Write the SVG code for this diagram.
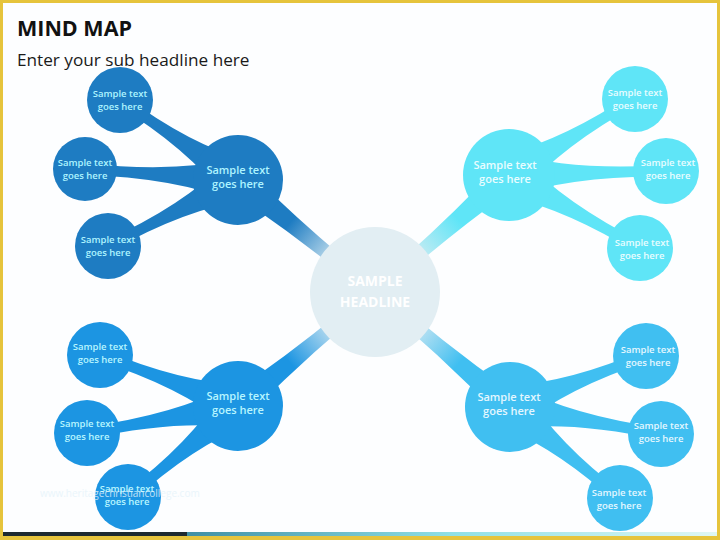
<svg xmlns="http://www.w3.org/2000/svg" xmlns:xlink="http://www.w3.org/1999/xlink" width="720" height="540" viewBox="0 0 720 540">
<style>
.title{font-family:"Open Sans","Liberation Sans",sans-serif;font-weight:700;font-size:21.5px;fill:#111}
.sub{font-family:"Open Sans","Liberation Sans",sans-serif;font-size:17.2px;fill:#1a1a1a}
.t{font-family:"Open Sans","Liberation Sans",sans-serif;font-weight:600;font-size:9.5px;text-anchor:middle}
.th{font-family:"Open Sans","Liberation Sans",sans-serif;font-weight:600;font-size:11px;text-anchor:middle}
.tc{font-family:"Open Sans","Liberation Sans",sans-serif;font-weight:700;font-size:14px;text-anchor:middle;fill:#ffffff}
.tl{fill:#1e7cc2}.bl{fill:#1c95e2}.tr{fill:#5fe5f7}.br{fill:#40bff1}
.ttl{fill:#aef4ff}.tbl{fill:#b8f6ff}.ttr{fill:#e9fdff}.tbr{fill:#e4f7ff}
</style>
<defs>
<path id="taper" d="M0,-22 Q0.42,-2 1,-6 L1,6 Q0.42,2 0,22 Z"/>
<path id="ctaper" d="M0,-14 Q0.5,-5 1,-7 L1,7 Q0.5,5 0,14 Z"/>
<linearGradient id="gTL" x1="0" y1="0" x2="1" y2="0"><stop offset="0" stop-color="#1e7cc2"/><stop offset="0.38" stop-color="#1e7cc2"/><stop offset="0.72" stop-color="#cfe6f1"/><stop offset="1" stop-color="#e2eef3"/></linearGradient>
<linearGradient id="gBL" x1="0" y1="0" x2="1" y2="0"><stop offset="0" stop-color="#1c95e2"/><stop offset="0.38" stop-color="#1c95e2"/><stop offset="0.72" stop-color="#cfe6f1"/><stop offset="1" stop-color="#e2eef3"/></linearGradient>
<linearGradient id="gTR" x1="0" y1="0" x2="1" y2="0"><stop offset="0" stop-color="#5fe5f7"/><stop offset="0.38" stop-color="#5fe5f7"/><stop offset="0.72" stop-color="#d3ecf2"/><stop offset="1" stop-color="#e2eef3"/></linearGradient>
<linearGradient id="gBR" x1="0" y1="0" x2="1" y2="0"><stop offset="0" stop-color="#40bff1"/><stop offset="0.38" stop-color="#40bff1"/><stop offset="0.72" stop-color="#d0e8f2"/><stop offset="1" stop-color="#e2eef3"/></linearGradient>
<linearGradient id="gBar" x1="0" y1="0" x2="1" y2="0"><stop offset="0" stop-color="#3f8fa5"/><stop offset="0.5" stop-color="#8fe0e6"/><stop offset="1" stop-color="#dff7f4"/></linearGradient>
</defs>
<rect x="0" y="0" width="720" height="540" fill="#e6c43c"/>
<rect x="3" y="3" width="714" height="530" fill="#fdfeff"/>
<rect x="3" y="532" width="184" height="4" fill="#1d2a30"/>
<rect x="187" y="532" width="530" height="4" fill="url(#gBar)"/>

<text class="title" x="17" y="36">MIND MAP</text>
<text class="sub" x="17" y="66">Enter your sub headline here</text>

<g id="connectors">
<use xlink:href="#ctaper" fill="url(#gTL)" transform="translate(238,180) rotate(39.3) scale(177,1)"/>
<use xlink:href="#ctaper" fill="url(#gBL)" transform="translate(238,406) rotate(-39.8) scale(178,1)"/>
<use xlink:href="#ctaper" fill="url(#gTR)" transform="translate(509,175) rotate(138.9) scale(178,1)"/>
<use xlink:href="#ctaper" fill="url(#gBR)" transform="translate(510,407) rotate(220.4) scale(177,1)"/>
<use xlink:href="#taper" class="tl" transform="translate(238,180) rotate(214.1) scale(142.6,1)"/>
<use xlink:href="#taper" class="tl" transform="translate(238,180) rotate(184.1) scale(153.4,1)"/>
<use xlink:href="#taper" class="tl" transform="translate(238,180) rotate(153.1) scale(145.8,1)"/>
<use xlink:href="#taper" class="bl" transform="translate(238,406) rotate(200.3) scale(147.1,1)"/>
<use xlink:href="#taper" class="bl" transform="translate(238,406) rotate(169.9) scale(153.4,1)"/>
<use xlink:href="#taper" class="bl" transform="translate(238,406) rotate(140.4) scale(142.8,1)"/>
<use xlink:href="#taper" class="tr" transform="translate(509,175) rotate(-31.1) scale(147.1,1)"/>
<use xlink:href="#taper" class="tr" transform="translate(509,175) rotate(-1.5) scale(157.1,1)"/>
<use xlink:href="#taper" class="tr" transform="translate(509,175) rotate(29.1) scale(150,1)"/>
<use xlink:href="#taper" class="br" transform="translate(510,407) rotate(-20.6) scale(145.2,1)"/>
<use xlink:href="#taper" class="br" transform="translate(510,407) rotate(10.1) scale(153.4,1)"/>
<use xlink:href="#taper" class="br" transform="translate(510,407) rotate(39.6) scale(142.8,1)"/>
</g>

<g id="center">
<circle cx="375" cy="292" r="65" fill="#e2eef3"/>
<text class="tc" x="375" y="286">SAMPLE</text>
<text class="tc" x="375" y="307">HEADLINE</text>
</g>

<g id="hub-tl">
<circle class="tl" cx="238" cy="180" r="45"/>
<text class="th ttl" x="238" y="174">Sample text</text>
<text class="th ttl" x="238" y="188">goes here</text>
</g>
<g id="tl-1"><circle class="tl" cx="120" cy="100" r="33"/><text class="t ttl" x="120" y="97">Sample text</text><text class="t ttl" x="120" y="109.5">goes here</text></g>
<g id="tl-2"><circle class="tl" cx="85" cy="169" r="32"/><text class="t ttl" x="85" y="166">Sample text</text><text class="t ttl" x="85" y="178.5">goes here</text></g>
<g id="tl-3"><circle class="tl" cx="108" cy="246" r="33"/><text class="t ttl" x="108" y="243">Sample text</text><text class="t ttl" x="108" y="255.5">goes here</text></g>

<g id="hub-bl">
<circle class="bl" cx="238" cy="406" r="45"/>
<text class="th tbl" x="238" y="400">Sample text</text>
<text class="th tbl" x="238" y="414">goes here</text>
</g>
<g id="bl-1"><circle class="bl" cx="100" cy="355" r="33"/><text class="t tbl" x="100" y="350">Sample text</text><text class="t tbl" x="100" y="362.5">goes here</text></g>
<g id="bl-2"><circle class="bl" cx="87" cy="433" r="33"/><text class="t tbl" x="87" y="427">Sample text</text><text class="t tbl" x="87" y="439.5">goes here</text></g>
<g id="bl-3"><circle class="bl" cx="128" cy="497" r="33"/><text class="t tbl" x="127" y="492">Sample text</text><text class="t tbl" x="127" y="504.5">goes here</text></g>

<g id="hub-tr">
<circle class="tr" cx="509" cy="175" r="46"/>
<text class="th ttr" x="505" y="169">Sample text</text>
<text class="th ttr" x="505" y="183">goes here</text>
</g>
<g id="tr-1"><circle class="tr" cx="635" cy="99" r="33"/><text class="t ttr" x="635" y="96">Sample text</text><text class="t ttr" x="635" y="108.5">goes here</text></g>
<g id="tr-2"><circle class="tr" cx="666" cy="171" r="33"/><text class="t ttr" x="668" y="166">Sample text</text><text class="t ttr" x="668" y="178.5">goes here</text></g>
<g id="tr-3"><circle class="tr" cx="640" cy="248" r="33"/><text class="t ttr" x="642" y="246">Sample text</text><text class="t ttr" x="642" y="258.5">goes here</text></g>

<g id="hub-br">
<circle class="br" cx="510" cy="407" r="45"/>
<text class="th tbr" x="509" y="401">Sample text</text>
<text class="th tbr" x="509" y="415">goes here</text>
</g>
<g id="br-1"><circle class="br" cx="646" cy="356" r="33"/><text class="t tbr" x="648" y="353">Sample text</text><text class="t tbr" x="648" y="365.5">goes here</text></g>
<g id="br-2"><circle class="br" cx="661" cy="434" r="33"/><text class="t tbr" x="661" y="429">Sample text</text><text class="t tbr" x="661" y="441.5">goes here</text></g>
<g id="br-3"><circle class="br" cx="620" cy="498" r="33"/><text class="t tbr" x="619" y="496">Sample text</text><text class="t tbr" x="619" y="508.5">goes here</text></g>

<text x="40" y="497" font-family="Open Sans, Liberation Sans, sans-serif" font-size="10" fill="#e6f4fb" opacity="0.8">www.heritagechristiancollege.com</text>
</svg>
